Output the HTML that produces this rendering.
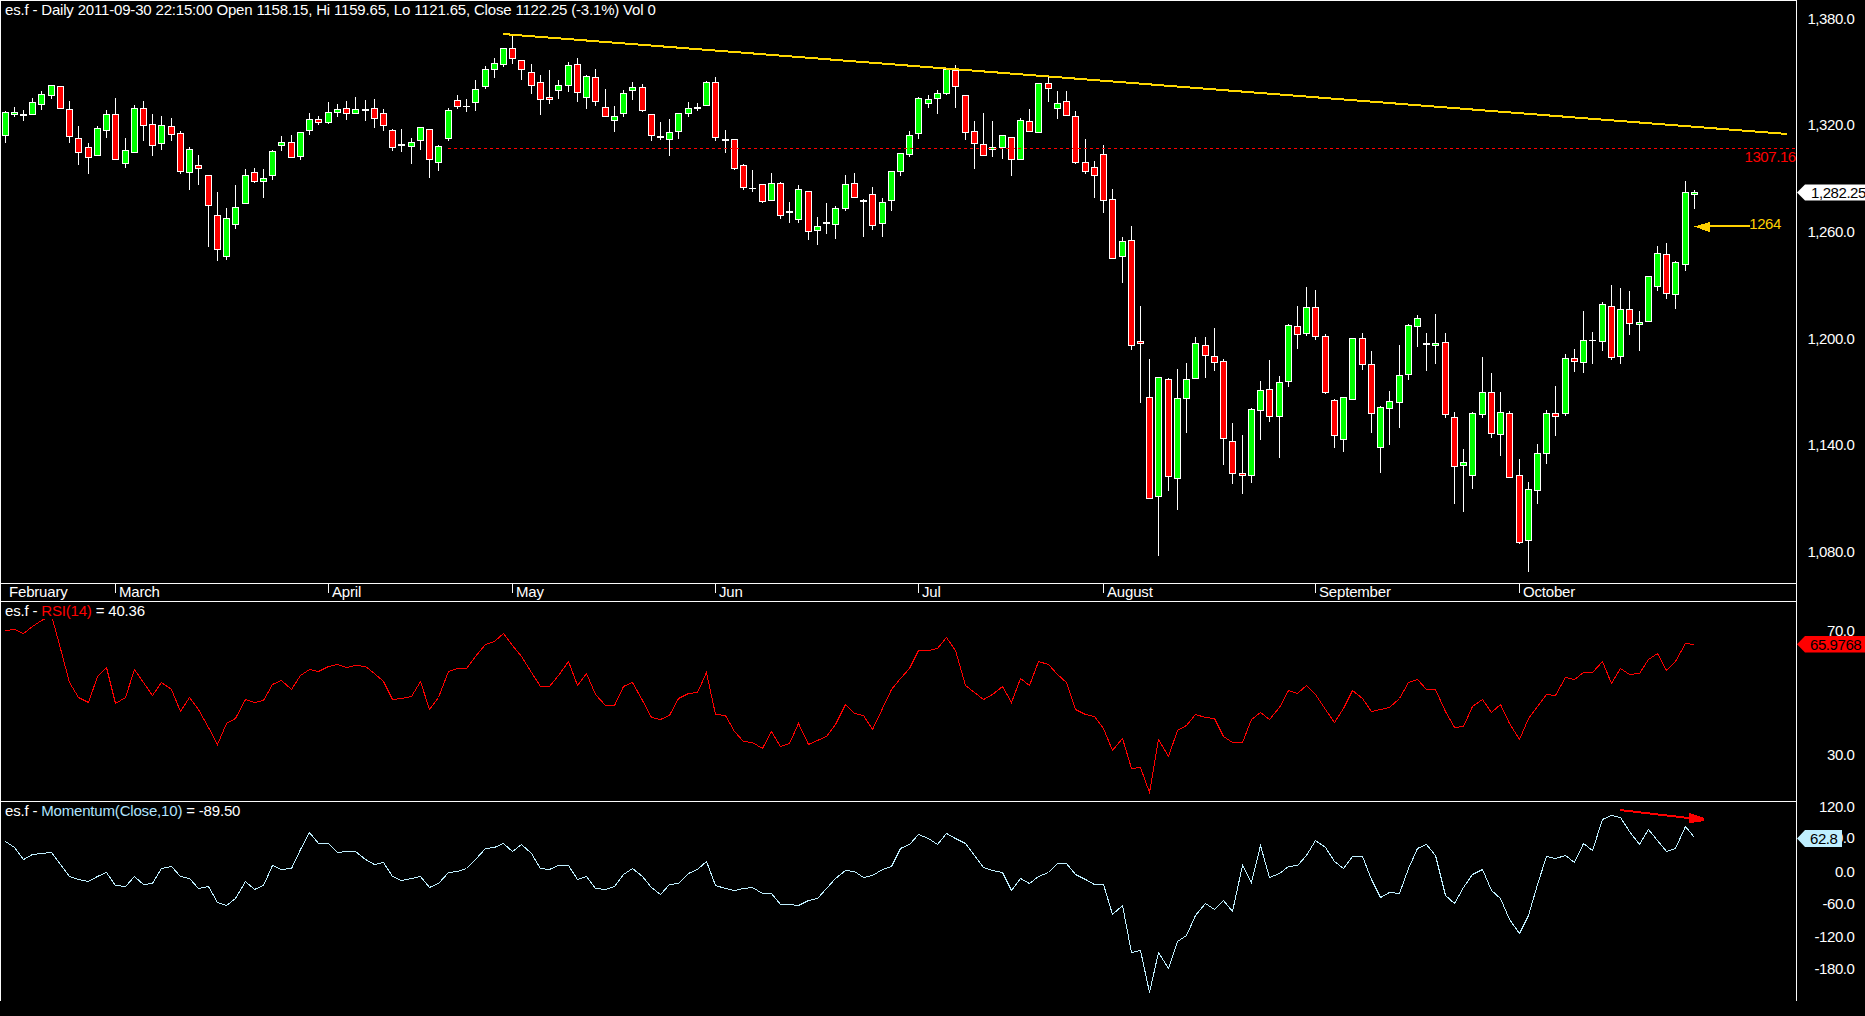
<!DOCTYPE html>
<html><head><meta charset="utf-8"><title>es.f Daily</title>
<style>
html,body{margin:0;padding:0;background:#000;overflow:hidden}
body{width:1865px;height:1016px;position:relative}
svg{position:absolute;left:0;top:0;display:block}
text{font-family:"Liberation Sans",sans-serif;font-size:15px;fill:#fff;letter-spacing:-0.18px}
.n{letter-spacing:-0.43px}
.r{fill:#f00}.g{fill:#0f0}.w{fill:#fff}
</style></head><body>
<svg width="1865" height="1016" viewBox="0 0 1865 1016">
<rect x="0" y="0" width="1865" height="1016" fill="#000"/>
<g shape-rendering="crispEdges" fill="#fafafa">
<rect x="0" y="0" width="1797" height="1"/>
<rect x="0" y="0" width="1" height="1001"/>
<rect x="1796" y="0" width="1" height="1001"/>
<rect x="0" y="583" width="1797" height="1"/>
<rect x="0" y="601" width="1797" height="1"/>
<rect x="0" y="801" width="1797" height="1"/>
<rect x="115" y="583" width="1" height="10"/>
<rect x="328" y="583" width="1" height="10"/>
<rect x="512" y="583" width="1" height="10"/>
<rect x="715" y="583" width="1" height="10"/>
<rect x="918" y="583" width="1" height="10"/>
<rect x="1103" y="583" width="1" height="10"/>
<rect x="1315" y="583" width="1" height="10"/>
<rect x="1519" y="583" width="1" height="10"/>
</g>
<text x="9" y="597">February</text>
<text x="119" y="597">March</text>
<text x="332" y="597">April</text>
<text x="516" y="597">May</text>
<text x="719" y="597">Jun</text>
<text x="922" y="597">Jul</text>
<text x="1107" y="597">August</text>
<text x="1319" y="597">September</text>
<text x="1523" y="597">October</text>
<g shape-rendering="crispEdges">
<rect class="w" x="5" y="111" width="1" height="32"/><rect class="w" x="2" y="112" width="7" height="24"/><rect class="g" x="3" y="113" width="5" height="22"/>
<rect class="w" x="14" y="107" width="1" height="10"/><rect class="w" x="11" y="112" width="7" height="3"/><rect class="g" x="12" y="113" width="5" height="1"/>
<rect class="w" x="23" y="110" width="1" height="11"/><rect class="w" x="20" y="114" width="7" height="2"/>
<rect class="w" x="32" y="98" width="1" height="17"/><rect class="w" x="29" y="102" width="7" height="13"/><rect class="g" x="30" y="103" width="5" height="11"/>
<rect class="w" x="41" y="91" width="1" height="19"/><rect class="w" x="38" y="94" width="7" height="11"/><rect class="g" x="39" y="95" width="5" height="9"/>
<rect class="w" x="51" y="85" width="1" height="14"/><rect class="w" x="48" y="85" width="7" height="11"/><rect class="g" x="49" y="86" width="5" height="9"/>
<rect class="w" x="60" y="86" width="1" height="23"/><rect class="w" x="57" y="86" width="7" height="23"/><rect class="r" x="58" y="87" width="5" height="21"/>
<rect class="w" x="69" y="101" width="1" height="42"/><rect class="w" x="66" y="109" width="7" height="28"/><rect class="r" x="67" y="110" width="5" height="26"/>
<rect class="w" x="78" y="126" width="1" height="39"/><rect class="w" x="75" y="138" width="7" height="15"/><rect class="r" x="76" y="139" width="5" height="13"/>
<rect class="w" x="88" y="143" width="1" height="31"/><rect class="w" x="85" y="147" width="7" height="11"/><rect class="r" x="86" y="148" width="5" height="9"/>
<rect class="w" x="97" y="126" width="1" height="30"/><rect class="w" x="94" y="128" width="7" height="28"/><rect class="g" x="95" y="129" width="5" height="26"/>
<rect class="w" x="106" y="110" width="1" height="28"/><rect class="w" x="103" y="114" width="7" height="17"/><rect class="g" x="104" y="115" width="5" height="15"/>
<rect class="w" x="115" y="98" width="1" height="62"/><rect class="w" x="112" y="114" width="7" height="46"/><rect class="r" x="113" y="115" width="5" height="44"/>
<rect class="w" x="125" y="138" width="1" height="30"/><rect class="w" x="122" y="150" width="7" height="14"/><rect class="g" x="123" y="151" width="5" height="12"/>
<rect class="w" x="134" y="105" width="1" height="48"/><rect class="w" x="131" y="108" width="7" height="45"/><rect class="g" x="132" y="109" width="5" height="43"/>
<rect class="w" x="143" y="101" width="1" height="40"/><rect class="w" x="140" y="108" width="7" height="18"/><rect class="r" x="141" y="109" width="5" height="16"/>
<rect class="w" x="152" y="114" width="1" height="42"/><rect class="w" x="149" y="124" width="7" height="22"/><rect class="r" x="150" y="125" width="5" height="20"/>
<rect class="w" x="161" y="116" width="1" height="34"/><rect class="w" x="158" y="125" width="7" height="19"/><rect class="g" x="159" y="126" width="5" height="17"/>
<rect class="w" x="171" y="118" width="1" height="23"/><rect class="w" x="168" y="126" width="7" height="9"/><rect class="r" x="169" y="127" width="5" height="7"/>
<rect class="w" x="180" y="131" width="1" height="43"/><rect class="w" x="177" y="133" width="7" height="39"/><rect class="r" x="178" y="134" width="5" height="37"/>
<rect class="w" x="189" y="147" width="1" height="43"/><rect class="w" x="186" y="149" width="7" height="24"/><rect class="g" x="187" y="150" width="5" height="22"/>
<rect class="w" x="198" y="155" width="1" height="30"/><rect class="w" x="195" y="165" width="7" height="4"/><rect class="r" x="196" y="166" width="5" height="2"/>
<rect class="w" x="208" y="175" width="1" height="72"/><rect class="w" x="205" y="175" width="7" height="31"/><rect class="r" x="206" y="176" width="5" height="29"/>
<rect class="w" x="217" y="192" width="1" height="69"/><rect class="w" x="214" y="215" width="7" height="35"/><rect class="r" x="215" y="216" width="5" height="33"/>
<rect class="w" x="226" y="208" width="1" height="52"/><rect class="w" x="223" y="218" width="7" height="39"/><rect class="g" x="224" y="219" width="5" height="37"/>
<rect class="w" x="235" y="185" width="1" height="44"/><rect class="w" x="232" y="207" width="7" height="18"/><rect class="g" x="233" y="208" width="5" height="16"/>
<rect class="w" x="245" y="169" width="1" height="35"/><rect class="w" x="242" y="175" width="7" height="29"/><rect class="g" x="243" y="176" width="5" height="27"/>
<rect class="w" x="254" y="168" width="1" height="15"/><rect class="w" x="251" y="172" width="7" height="10"/><rect class="r" x="252" y="173" width="5" height="8"/>
<rect class="w" x="263" y="169" width="1" height="29"/><rect class="w" x="260" y="178" width="7" height="4"/><rect class="g" x="261" y="179" width="5" height="2"/>
<rect class="w" x="272" y="150" width="1" height="30"/><rect class="w" x="269" y="151" width="7" height="25"/><rect class="g" x="270" y="152" width="5" height="23"/>
<rect class="w" x="281" y="136" width="1" height="15"/><rect class="w" x="278" y="142" width="7" height="4"/><rect class="g" x="279" y="143" width="5" height="2"/>
<rect class="w" x="291" y="135" width="1" height="23"/><rect class="w" x="288" y="142" width="7" height="16"/><rect class="r" x="289" y="143" width="5" height="14"/>
<rect class="w" x="300" y="132" width="1" height="28"/><rect class="w" x="297" y="132" width="7" height="25"/><rect class="g" x="298" y="133" width="5" height="23"/>
<rect class="w" x="309" y="113" width="1" height="22"/><rect class="w" x="306" y="119" width="7" height="12"/><rect class="g" x="307" y="120" width="5" height="10"/>
<rect class="w" x="318" y="116" width="1" height="9"/><rect class="w" x="315" y="119" width="7" height="4"/><rect class="r" x="316" y="120" width="5" height="2"/>
<rect class="w" x="328" y="102" width="1" height="22"/><rect class="w" x="325" y="112" width="7" height="11"/><rect class="g" x="326" y="113" width="5" height="9"/>
<rect class="w" x="337" y="104" width="1" height="13"/><rect class="w" x="334" y="109" width="7" height="4"/><rect class="g" x="335" y="110" width="5" height="2"/>
<rect class="w" x="346" y="101" width="1" height="19"/><rect class="w" x="343" y="108" width="7" height="6"/><rect class="r" x="344" y="109" width="5" height="4"/>
<rect class="w" x="355" y="97" width="1" height="17"/><rect class="w" x="352" y="109" width="7" height="5"/><rect class="g" x="353" y="110" width="5" height="3"/>
<rect class="w" x="365" y="100" width="1" height="21"/><rect class="w" x="362" y="109" width="7" height="2"/>
<rect class="w" x="374" y="99" width="1" height="29"/><rect class="w" x="371" y="108" width="7" height="11"/><rect class="r" x="372" y="109" width="5" height="9"/>
<rect class="w" x="383" y="109" width="1" height="22"/><rect class="w" x="380" y="113" width="7" height="13"/><rect class="r" x="381" y="114" width="5" height="11"/>
<rect class="w" x="392" y="129" width="1" height="22"/><rect class="w" x="389" y="130" width="7" height="18"/><rect class="r" x="390" y="131" width="5" height="16"/>
<rect class="w" x="401" y="129" width="1" height="23"/><rect class="w" x="398" y="144" width="7" height="2"/>
<rect class="w" x="411" y="138" width="1" height="26"/><rect class="w" x="408" y="142" width="7" height="5"/><rect class="g" x="409" y="143" width="5" height="3"/>
<rect class="w" x="420" y="127" width="1" height="23"/><rect class="w" x="417" y="127" width="7" height="14"/><rect class="g" x="418" y="128" width="5" height="12"/>
<rect class="w" x="429" y="129" width="1" height="49"/><rect class="w" x="426" y="129" width="7" height="31"/><rect class="r" x="427" y="130" width="5" height="29"/>
<rect class="w" x="438" y="145" width="1" height="26"/><rect class="w" x="435" y="146" width="7" height="17"/><rect class="g" x="436" y="147" width="5" height="15"/>
<rect class="w" x="448" y="108" width="1" height="33"/><rect class="w" x="445" y="110" width="7" height="29"/><rect class="g" x="446" y="111" width="5" height="27"/>
<rect class="w" x="457" y="95" width="1" height="14"/><rect class="w" x="454" y="100" width="7" height="7"/><rect class="r" x="455" y="101" width="5" height="5"/>
<rect class="w" x="466" y="99" width="1" height="13"/><rect class="w" x="463" y="106" width="7" height="1"/>
<rect class="w" x="475" y="80" width="1" height="31"/><rect class="w" x="472" y="89" width="7" height="14"/><rect class="g" x="473" y="90" width="5" height="12"/>
<rect class="w" x="485" y="66" width="1" height="23"/><rect class="w" x="482" y="69" width="7" height="18"/><rect class="g" x="483" y="70" width="5" height="16"/>
<rect class="w" x="494" y="58" width="1" height="20"/><rect class="w" x="491" y="63" width="7" height="7"/><rect class="g" x="492" y="64" width="5" height="5"/>
<rect class="w" x="503" y="48" width="1" height="19"/><rect class="w" x="500" y="48" width="7" height="17"/><rect class="g" x="501" y="49" width="5" height="15"/>
<rect class="w" x="512" y="34" width="1" height="30"/><rect class="w" x="509" y="48" width="7" height="11"/><rect class="r" x="510" y="49" width="5" height="9"/>
<rect class="w" x="521" y="60" width="1" height="20"/><rect class="w" x="518" y="60" width="7" height="10"/><rect class="r" x="519" y="61" width="5" height="8"/>
<rect class="w" x="531" y="64" width="1" height="30"/><rect class="w" x="528" y="72" width="7" height="14"/><rect class="r" x="529" y="73" width="5" height="12"/>
<rect class="w" x="540" y="75" width="1" height="40"/><rect class="w" x="537" y="82" width="7" height="18"/><rect class="r" x="538" y="83" width="5" height="16"/>
<rect class="w" x="549" y="70" width="1" height="34"/><rect class="w" x="546" y="97" width="7" height="3"/><rect class="r" x="547" y="98" width="5" height="1"/>
<rect class="w" x="558" y="80" width="1" height="19"/><rect class="w" x="555" y="85" width="7" height="6"/><rect class="g" x="556" y="86" width="5" height="4"/>
<rect class="w" x="568" y="62" width="1" height="30"/><rect class="w" x="565" y="65" width="7" height="21"/><rect class="g" x="566" y="66" width="5" height="19"/>
<rect class="w" x="577" y="58" width="1" height="44"/><rect class="w" x="574" y="64" width="7" height="29"/><rect class="r" x="575" y="65" width="5" height="27"/>
<rect class="w" x="586" y="75" width="1" height="34"/><rect class="w" x="583" y="76" width="7" height="22"/><rect class="g" x="584" y="77" width="5" height="20"/>
<rect class="w" x="595" y="69" width="1" height="37"/><rect class="w" x="592" y="77" width="7" height="25"/><rect class="r" x="593" y="78" width="5" height="23"/>
<rect class="w" x="605" y="89" width="1" height="28"/><rect class="w" x="602" y="107" width="7" height="10"/><rect class="r" x="603" y="108" width="5" height="8"/>
<rect class="w" x="614" y="106" width="1" height="26"/><rect class="w" x="611" y="116" width="7" height="5"/><rect class="g" x="612" y="117" width="5" height="3"/>
<rect class="w" x="623" y="90" width="1" height="27"/><rect class="w" x="620" y="93" width="7" height="21"/><rect class="g" x="621" y="94" width="5" height="19"/>
<rect class="w" x="632" y="82" width="1" height="18"/><rect class="w" x="629" y="87" width="7" height="4"/><rect class="g" x="630" y="88" width="5" height="2"/>
<rect class="w" x="642" y="84" width="1" height="28"/><rect class="w" x="639" y="87" width="7" height="24"/><rect class="r" x="640" y="88" width="5" height="22"/>
<rect class="w" x="651" y="114" width="1" height="27"/><rect class="w" x="648" y="114" width="7" height="22"/><rect class="r" x="649" y="115" width="5" height="20"/>
<rect class="w" x="660" y="122" width="1" height="18"/><rect class="w" x="657" y="136" width="7" height="2"/>
<rect class="w" x="669" y="119" width="1" height="37"/><rect class="w" x="666" y="132" width="7" height="8"/><rect class="g" x="667" y="133" width="5" height="6"/>
<rect class="w" x="678" y="113" width="1" height="26"/><rect class="w" x="675" y="113" width="7" height="19"/><rect class="g" x="676" y="114" width="5" height="17"/>
<rect class="w" x="688" y="102" width="1" height="15"/><rect class="w" x="685" y="108" width="7" height="6"/><rect class="g" x="686" y="109" width="5" height="4"/>
<rect class="w" x="697" y="103" width="1" height="8"/><rect class="w" x="694" y="107" width="7" height="2"/>
<rect class="w" x="706" y="81" width="1" height="25"/><rect class="w" x="703" y="82" width="7" height="24"/><rect class="g" x="704" y="83" width="5" height="22"/>
<rect class="w" x="715" y="77" width="1" height="64"/><rect class="w" x="712" y="82" width="7" height="56"/><rect class="r" x="713" y="83" width="5" height="54"/>
<rect class="w" x="725" y="130" width="1" height="23"/><rect class="w" x="722" y="139" width="7" height="2"/>
<rect class="w" x="734" y="139" width="1" height="31"/><rect class="w" x="731" y="139" width="7" height="30"/><rect class="r" x="732" y="140" width="5" height="28"/>
<rect class="w" x="743" y="164" width="1" height="26"/><rect class="w" x="740" y="165" width="7" height="23"/><rect class="r" x="741" y="166" width="5" height="21"/>
<rect class="w" x="752" y="170" width="1" height="22"/><rect class="w" x="749" y="188" width="7" height="1"/>
<rect class="w" x="762" y="184" width="1" height="19"/><rect class="w" x="759" y="184" width="7" height="18"/><rect class="r" x="760" y="185" width="5" height="16"/>
<rect class="w" x="771" y="173" width="1" height="28"/><rect class="w" x="768" y="183" width="7" height="18"/><rect class="g" x="769" y="184" width="5" height="16"/>
<rect class="w" x="780" y="182" width="1" height="37"/><rect class="w" x="777" y="183" width="7" height="33"/><rect class="r" x="778" y="184" width="5" height="31"/>
<rect class="w" x="789" y="202" width="1" height="21"/><rect class="w" x="786" y="211" width="7" height="2"/>
<rect class="w" x="798" y="185" width="1" height="38"/><rect class="w" x="795" y="189" width="7" height="31"/><rect class="g" x="796" y="190" width="5" height="29"/>
<rect class="w" x="808" y="191" width="1" height="49"/><rect class="w" x="805" y="191" width="7" height="41"/><rect class="r" x="806" y="192" width="5" height="39"/>
<rect class="w" x="817" y="217" width="1" height="28"/><rect class="w" x="814" y="226" width="7" height="5"/><rect class="g" x="815" y="227" width="5" height="3"/>
<rect class="w" x="826" y="203" width="1" height="31"/><rect class="w" x="823" y="222" width="7" height="2"/>
<rect class="w" x="835" y="206" width="1" height="33"/><rect class="w" x="832" y="208" width="7" height="17"/><rect class="g" x="833" y="209" width="5" height="15"/>
<rect class="w" x="845" y="175" width="1" height="36"/><rect class="w" x="842" y="184" width="7" height="25"/><rect class="g" x="843" y="185" width="5" height="23"/>
<rect class="w" x="854" y="173" width="1" height="25"/><rect class="w" x="851" y="183" width="7" height="15"/><rect class="r" x="852" y="184" width="5" height="13"/>
<rect class="w" x="863" y="199" width="1" height="38"/><rect class="w" x="860" y="200" width="7" height="2"/>
<rect class="w" x="872" y="187" width="1" height="43"/><rect class="w" x="869" y="194" width="7" height="32"/><rect class="r" x="870" y="195" width="5" height="30"/>
<rect class="w" x="882" y="198" width="1" height="39"/><rect class="w" x="879" y="202" width="7" height="22"/><rect class="g" x="880" y="203" width="5" height="20"/>
<rect class="w" x="891" y="171" width="1" height="40"/><rect class="w" x="888" y="171" width="7" height="30"/><rect class="g" x="889" y="172" width="5" height="28"/>
<rect class="w" x="900" y="153" width="1" height="23"/><rect class="w" x="897" y="153" width="7" height="19"/><rect class="g" x="898" y="154" width="5" height="17"/>
<rect class="w" x="909" y="131" width="1" height="26"/><rect class="w" x="906" y="135" width="7" height="20"/><rect class="g" x="907" y="136" width="5" height="18"/>
<rect class="w" x="918" y="97" width="1" height="42"/><rect class="w" x="915" y="98" width="7" height="36"/><rect class="g" x="916" y="99" width="5" height="34"/>
<rect class="w" x="928" y="95" width="1" height="13"/><rect class="w" x="925" y="99" width="7" height="5"/><rect class="g" x="926" y="100" width="5" height="3"/>
<rect class="w" x="937" y="90" width="1" height="24"/><rect class="w" x="934" y="93" width="7" height="6"/><rect class="g" x="935" y="94" width="5" height="4"/>
<rect class="w" x="946" y="69" width="1" height="26"/><rect class="w" x="943" y="69" width="7" height="25"/><rect class="g" x="944" y="70" width="5" height="23"/>
<rect class="w" x="955" y="65" width="1" height="43"/><rect class="w" x="952" y="70" width="7" height="17"/><rect class="r" x="953" y="71" width="5" height="15"/>
<rect class="w" x="965" y="95" width="1" height="45"/><rect class="w" x="962" y="95" width="7" height="38"/><rect class="r" x="963" y="96" width="5" height="36"/>
<rect class="w" x="974" y="121" width="1" height="48"/><rect class="w" x="971" y="131" width="7" height="13"/><rect class="r" x="972" y="132" width="5" height="11"/>
<rect class="w" x="983" y="113" width="1" height="43"/><rect class="w" x="980" y="144" width="7" height="12"/><rect class="r" x="981" y="145" width="5" height="10"/>
<rect class="w" x="992" y="121" width="1" height="36"/><rect class="w" x="989" y="147" width="7" height="3"/><rect class="g" x="990" y="148" width="5" height="1"/>
<rect class="w" x="1002" y="135" width="1" height="24"/><rect class="w" x="999" y="135" width="7" height="13"/><rect class="g" x="1000" y="136" width="5" height="11"/>
<rect class="w" x="1011" y="137" width="1" height="39"/><rect class="w" x="1008" y="137" width="7" height="23"/><rect class="r" x="1009" y="138" width="5" height="21"/>
<rect class="w" x="1020" y="118" width="1" height="42"/><rect class="w" x="1017" y="120" width="7" height="40"/><rect class="g" x="1018" y="121" width="5" height="38"/>
<rect class="w" x="1029" y="109" width="1" height="23"/><rect class="w" x="1026" y="121" width="7" height="11"/><rect class="r" x="1027" y="122" width="5" height="9"/>
<rect class="w" x="1038" y="83" width="1" height="50"/><rect class="w" x="1035" y="83" width="7" height="50"/><rect class="g" x="1036" y="84" width="5" height="48"/>
<rect class="w" x="1048" y="77" width="1" height="25"/><rect class="w" x="1045" y="83" width="7" height="6"/><rect class="r" x="1046" y="84" width="5" height="4"/>
<rect class="w" x="1057" y="91" width="1" height="28"/><rect class="w" x="1054" y="103" width="7" height="6"/><rect class="g" x="1055" y="104" width="5" height="4"/>
<rect class="w" x="1066" y="91" width="1" height="25"/><rect class="w" x="1063" y="101" width="7" height="15"/><rect class="r" x="1064" y="102" width="5" height="13"/>
<rect class="w" x="1075" y="111" width="1" height="53"/><rect class="w" x="1072" y="116" width="7" height="47"/><rect class="r" x="1073" y="117" width="5" height="45"/>
<rect class="w" x="1085" y="139" width="1" height="35"/><rect class="w" x="1082" y="162" width="7" height="10"/><rect class="r" x="1083" y="163" width="5" height="8"/>
<rect class="w" x="1094" y="161" width="1" height="37"/><rect class="w" x="1091" y="167" width="7" height="9"/><rect class="r" x="1092" y="168" width="5" height="7"/>
<rect class="w" x="1103" y="145" width="1" height="68"/><rect class="w" x="1100" y="154" width="7" height="47"/><rect class="r" x="1101" y="155" width="5" height="45"/>
<rect class="w" x="1112" y="189" width="1" height="70"/><rect class="w" x="1109" y="199" width="7" height="60"/><rect class="r" x="1110" y="200" width="5" height="58"/>
<rect class="w" x="1122" y="237" width="1" height="46"/><rect class="w" x="1119" y="241" width="7" height="16"/><rect class="g" x="1120" y="242" width="5" height="14"/>
<rect class="w" x="1131" y="226" width="1" height="124"/><rect class="w" x="1128" y="240" width="7" height="106"/><rect class="r" x="1129" y="241" width="5" height="104"/>
<rect class="w" x="1140" y="306" width="1" height="97"/><rect class="w" x="1137" y="341" width="7" height="3"/><rect class="r" x="1138" y="342" width="5" height="1"/>
<rect class="w" x="1149" y="359" width="1" height="140"/><rect class="w" x="1146" y="397" width="7" height="102"/><rect class="r" x="1147" y="398" width="5" height="100"/>
<rect class="w" x="1158" y="377" width="1" height="179"/><rect class="w" x="1155" y="377" width="7" height="120"/><rect class="g" x="1156" y="378" width="5" height="118"/>
<rect class="w" x="1168" y="378" width="1" height="113"/><rect class="w" x="1165" y="379" width="7" height="98"/><rect class="r" x="1166" y="380" width="5" height="96"/>
<rect class="w" x="1177" y="369" width="1" height="141"/><rect class="w" x="1174" y="398" width="7" height="81"/><rect class="g" x="1175" y="399" width="5" height="79"/>
<rect class="w" x="1186" y="363" width="1" height="70"/><rect class="w" x="1183" y="379" width="7" height="20"/><rect class="g" x="1184" y="380" width="5" height="18"/>
<rect class="w" x="1195" y="337" width="1" height="42"/><rect class="w" x="1192" y="343" width="7" height="36"/><rect class="g" x="1193" y="344" width="5" height="34"/>
<rect class="w" x="1205" y="337" width="1" height="41"/><rect class="w" x="1202" y="345" width="7" height="11"/><rect class="r" x="1203" y="346" width="5" height="9"/>
<rect class="w" x="1214" y="328" width="1" height="43"/><rect class="w" x="1211" y="356" width="7" height="7"/><rect class="r" x="1212" y="357" width="5" height="5"/>
<rect class="w" x="1223" y="359" width="1" height="106"/><rect class="w" x="1220" y="361" width="7" height="78"/><rect class="r" x="1221" y="362" width="5" height="76"/>
<rect class="w" x="1232" y="423" width="1" height="61"/><rect class="w" x="1229" y="441" width="7" height="33"/><rect class="r" x="1230" y="442" width="5" height="31"/>
<rect class="w" x="1242" y="435" width="1" height="59"/><rect class="w" x="1239" y="473" width="7" height="3"/><rect class="r" x="1240" y="474" width="5" height="1"/>
<rect class="w" x="1251" y="408" width="1" height="75"/><rect class="w" x="1248" y="409" width="7" height="67"/><rect class="g" x="1249" y="410" width="5" height="65"/>
<rect class="w" x="1260" y="381" width="1" height="59"/><rect class="w" x="1257" y="390" width="7" height="21"/><rect class="g" x="1258" y="391" width="5" height="19"/>
<rect class="w" x="1269" y="360" width="1" height="62"/><rect class="w" x="1266" y="389" width="7" height="28"/><rect class="r" x="1267" y="390" width="5" height="26"/>
<rect class="w" x="1279" y="376" width="1" height="82"/><rect class="w" x="1276" y="382" width="7" height="35"/><rect class="g" x="1277" y="383" width="5" height="33"/>
<rect class="w" x="1288" y="324" width="1" height="63"/><rect class="w" x="1285" y="325" width="7" height="57"/><rect class="g" x="1286" y="326" width="5" height="55"/>
<rect class="w" x="1297" y="306" width="1" height="43"/><rect class="w" x="1294" y="326" width="7" height="9"/><rect class="r" x="1295" y="327" width="5" height="7"/>
<rect class="w" x="1306" y="287" width="1" height="49"/><rect class="w" x="1303" y="307" width="7" height="27"/><rect class="g" x="1304" y="308" width="5" height="25"/>
<rect class="w" x="1315" y="290" width="1" height="50"/><rect class="w" x="1312" y="307" width="7" height="30"/><rect class="r" x="1313" y="308" width="5" height="28"/>
<rect class="w" x="1325" y="334" width="1" height="60"/><rect class="w" x="1322" y="336" width="7" height="57"/><rect class="r" x="1323" y="337" width="5" height="55"/>
<rect class="w" x="1334" y="399" width="1" height="49"/><rect class="w" x="1331" y="400" width="7" height="36"/><rect class="r" x="1332" y="401" width="5" height="34"/>
<rect class="w" x="1343" y="397" width="1" height="55"/><rect class="w" x="1340" y="397" width="7" height="43"/><rect class="g" x="1341" y="398" width="5" height="41"/>
<rect class="w" x="1352" y="338" width="1" height="62"/><rect class="w" x="1349" y="338" width="7" height="62"/><rect class="g" x="1350" y="339" width="5" height="60"/>
<rect class="w" x="1362" y="333" width="1" height="37"/><rect class="w" x="1359" y="338" width="7" height="27"/><rect class="r" x="1360" y="339" width="5" height="25"/>
<rect class="w" x="1371" y="351" width="1" height="82"/><rect class="w" x="1368" y="364" width="7" height="50"/><rect class="r" x="1369" y="365" width="5" height="48"/>
<rect class="w" x="1380" y="406" width="1" height="67"/><rect class="w" x="1377" y="407" width="7" height="41"/><rect class="g" x="1378" y="408" width="5" height="39"/>
<rect class="w" x="1389" y="391" width="1" height="54"/><rect class="w" x="1386" y="401" width="7" height="8"/><rect class="g" x="1387" y="402" width="5" height="6"/>
<rect class="w" x="1399" y="345" width="1" height="83"/><rect class="w" x="1396" y="375" width="7" height="28"/><rect class="g" x="1397" y="376" width="5" height="26"/>
<rect class="w" x="1408" y="324" width="1" height="56"/><rect class="w" x="1405" y="325" width="7" height="50"/><rect class="g" x="1406" y="326" width="5" height="48"/>
<rect class="w" x="1417" y="315" width="1" height="32"/><rect class="w" x="1414" y="318" width="7" height="9"/><rect class="g" x="1415" y="319" width="5" height="7"/>
<rect class="w" x="1426" y="333" width="1" height="38"/><rect class="w" x="1423" y="343" width="7" height="2"/>
<rect class="w" x="1435" y="314" width="1" height="50"/><rect class="w" x="1432" y="343" width="7" height="3"/><rect class="g" x="1433" y="344" width="5" height="1"/>
<rect class="w" x="1445" y="333" width="1" height="85"/><rect class="w" x="1442" y="342" width="7" height="73"/><rect class="r" x="1443" y="343" width="5" height="71"/>
<rect class="w" x="1454" y="412" width="1" height="92"/><rect class="w" x="1451" y="417" width="7" height="50"/><rect class="r" x="1452" y="418" width="5" height="48"/>
<rect class="w" x="1463" y="449" width="1" height="63"/><rect class="w" x="1460" y="462" width="7" height="4"/><rect class="g" x="1461" y="463" width="5" height="2"/>
<rect class="w" x="1472" y="412" width="1" height="77"/><rect class="w" x="1469" y="413" width="7" height="63"/><rect class="g" x="1470" y="414" width="5" height="61"/>
<rect class="w" x="1482" y="357" width="1" height="61"/><rect class="w" x="1479" y="392" width="7" height="23"/><rect class="g" x="1480" y="393" width="5" height="21"/>
<rect class="w" x="1491" y="373" width="1" height="65"/><rect class="w" x="1488" y="392" width="7" height="42"/><rect class="r" x="1489" y="393" width="5" height="40"/>
<rect class="w" x="1500" y="392" width="1" height="64"/><rect class="w" x="1497" y="412" width="7" height="23"/><rect class="g" x="1498" y="413" width="5" height="21"/>
<rect class="w" x="1509" y="411" width="1" height="67"/><rect class="w" x="1506" y="413" width="7" height="65"/><rect class="r" x="1507" y="414" width="5" height="63"/>
<rect class="w" x="1519" y="459" width="1" height="85"/><rect class="w" x="1516" y="475" width="7" height="68"/><rect class="r" x="1517" y="476" width="5" height="66"/>
<rect class="w" x="1528" y="482" width="1" height="90"/><rect class="w" x="1525" y="489" width="7" height="52"/><rect class="g" x="1526" y="490" width="5" height="50"/>
<rect class="w" x="1537" y="444" width="1" height="60"/><rect class="w" x="1534" y="453" width="7" height="38"/><rect class="g" x="1535" y="454" width="5" height="36"/>
<rect class="w" x="1546" y="410" width="1" height="54"/><rect class="w" x="1543" y="413" width="7" height="41"/><rect class="g" x="1544" y="414" width="5" height="39"/>
<rect class="w" x="1555" y="386" width="1" height="50"/><rect class="w" x="1552" y="413" width="7" height="4"/><rect class="r" x="1553" y="414" width="5" height="2"/>
<rect class="w" x="1565" y="354" width="1" height="62"/><rect class="w" x="1562" y="358" width="7" height="56"/><rect class="g" x="1563" y="359" width="5" height="54"/>
<rect class="w" x="1574" y="349" width="1" height="23"/><rect class="w" x="1571" y="358" width="7" height="4"/><rect class="r" x="1572" y="359" width="5" height="2"/>
<rect class="w" x="1583" y="311" width="1" height="62"/><rect class="w" x="1580" y="340" width="7" height="23"/><rect class="g" x="1581" y="341" width="5" height="21"/>
<rect class="w" x="1592" y="332" width="1" height="32"/><rect class="w" x="1589" y="340" width="7" height="1"/>
<rect class="w" x="1602" y="302" width="1" height="49"/><rect class="w" x="1599" y="304" width="7" height="38"/><rect class="g" x="1600" y="305" width="5" height="36"/>
<rect class="w" x="1611" y="285" width="1" height="75"/><rect class="w" x="1608" y="306" width="7" height="52"/><rect class="r" x="1609" y="307" width="5" height="50"/>
<rect class="w" x="1620" y="288" width="1" height="76"/><rect class="w" x="1617" y="309" width="7" height="48"/><rect class="g" x="1618" y="310" width="5" height="46"/>
<rect class="w" x="1629" y="291" width="1" height="44"/><rect class="w" x="1626" y="309" width="7" height="15"/><rect class="r" x="1627" y="310" width="5" height="13"/>
<rect class="w" x="1639" y="311" width="1" height="40"/><rect class="w" x="1636" y="322" width="7" height="3"/><rect class="g" x="1637" y="323" width="5" height="1"/>
<rect class="w" x="1648" y="276" width="1" height="46"/><rect class="w" x="1645" y="276" width="7" height="46"/><rect class="g" x="1646" y="277" width="5" height="44"/>
<rect class="w" x="1657" y="246" width="1" height="45"/><rect class="w" x="1654" y="253" width="7" height="34"/><rect class="g" x="1655" y="254" width="5" height="32"/>
<rect class="w" x="1666" y="243" width="1" height="56"/><rect class="w" x="1663" y="254" width="7" height="40"/><rect class="r" x="1664" y="255" width="5" height="38"/>
<rect class="w" x="1675" y="261" width="1" height="48"/><rect class="w" x="1672" y="262" width="7" height="33"/><rect class="g" x="1673" y="263" width="5" height="31"/>
<rect class="w" x="1685" y="181" width="1" height="90"/><rect class="w" x="1682" y="192" width="7" height="73"/><rect class="g" x="1683" y="193" width="5" height="71"/>
<rect class="w" x="1694" y="190" width="1" height="19"/><rect class="w" x="1691" y="192" width="7" height="3"/><rect class="g" x="1692" y="193" width="5" height="1"/>
</g>
<line x1="448" y1="148.5" x2="1796" y2="148.5" stroke="#f00" stroke-width="1" stroke-dasharray="3,3" shape-rendering="crispEdges"/>
<line x1="503" y1="34" x2="1787" y2="134" stroke="#ffd700" stroke-width="2" shape-rendering="crispEdges"/>
<g fill="#ffd000" stroke="none"><rect x="1708" y="225" width="42" height="2" shape-rendering="crispEdges"/><polygon points="1694,226.5 1710,222 1710,232.3" shape-rendering="crispEdges"/></g>
<text class="n" x="1749.3" y="229" style="fill:#ffd000">1264</text>
<text class="n" x="1744.5" y="161.6" style="fill:#f00">1307.16</text>
<polyline points="5.5,630.5 14.5,629.5 23.5,633.5 32.5,626.5 41.5,620.5 51.5,615.5 60.5,648.5 69.5,682.5 78.5,697.5 88.5,702.5 97.5,676.5 106.5,667.5 115.5,703.5 125.5,697.5 134.5,669.5 143.5,682.5 152.5,695.5 161.5,682.5 171.5,689.5 180.5,711.5 189.5,697.5 198.5,709.5 208.5,727.5 217.5,744.5 226.5,723.5 235.5,718.5 245.5,699.5 254.5,702.5 263.5,700.5 272.5,684.5 281.5,680.5 291.5,689.5 300.5,675.5 309.5,669.5 318.5,671.5 328.5,666.5 337.5,664.5 346.5,667.5 355.5,665.5 365.5,666.5 374.5,673.5 383.5,681.5 392.5,699.5 401.5,698.5 411.5,696.5 420.5,681.5 429.5,709.5 438.5,697.5 448.5,671.5 457.5,668.5 466.5,668.5 475.5,656.5 485.5,644.5 494.5,641.5 503.5,633.5 512.5,645.5 521.5,656.5 531.5,672.5 540.5,686.5 549.5,686.5 558.5,675.5 568.5,661.5 577.5,685.5 586.5,673.5 595.5,694.5 605.5,705.5 614.5,705.5 623.5,686.5 632.5,682.5 642.5,700.5 651.5,717.5 660.5,719.5 669.5,715.5 678.5,698.5 688.5,693.5 697.5,692.5 706.5,672.5 715.5,714.5 725.5,715.5 734.5,731.5 743.5,741.5 752.5,742.5 762.5,748.5 771.5,731.5 780.5,746.5 789.5,743.5 798.5,723.5 808.5,744.5 817.5,740.5 826.5,736.5 835.5,724.5 845.5,704.5 854.5,713.5 863.5,715.5 872.5,729.5 882.5,708.5 891.5,689.5 900.5,678.5 909.5,668.5 918.5,650.5 928.5,650.5 937.5,648.5 946.5,637.5 955.5,650.5 965.5,685.5 974.5,692.5 983.5,699.5 992.5,694.5 1002.5,686.5 1011.5,702.5 1020.5,678.5 1029.5,685.5 1038.5,661.5 1048.5,664.5 1057.5,674.5 1066.5,682.5 1075.5,709.5 1085.5,714.5 1094.5,716.5 1103.5,728.5 1112.5,750.5 1122.5,738.5 1131.5,768.5 1140.5,767.5 1149.5,792.5 1158.5,739.5 1168.5,756.5 1177.5,730.5 1186.5,725.5 1195.5,714.5 1205.5,717.5 1214.5,718.5 1223.5,736.5 1232.5,742.5 1242.5,742.5 1251.5,719.5 1260.5,712.5 1269.5,719.5 1279.5,707.5 1288.5,690.5 1297.5,693.5 1306.5,685.5 1315.5,694.5 1325.5,709.5 1334.5,722.5 1343.5,708.5 1352.5,690.5 1362.5,698.5 1371.5,711.5 1380.5,709.5 1389.5,707.5 1399.5,698.5 1408.5,682.5 1417.5,679.5 1426.5,689.5 1435.5,689.5 1445.5,711.5 1454.5,727.5 1463.5,726.5 1472.5,706.5 1482.5,699.5 1491.5,712.5 1500.5,704.5 1509.5,723.5 1519.5,739.5 1528.5,718.5 1537.5,706.5 1546.5,694.5 1555.5,695.5 1565.5,677.5 1574.5,679.5 1583.5,672.5 1592.5,672.5 1602.5,661.5 1611.5,683.5 1620.5,668.5 1629.5,674.5 1639.5,673.5 1648.5,659.5 1657.5,653.5 1666.5,670.5 1675.5,661.5 1685.5,643.5 1694.5,644.5" fill="none" stroke="#f00" stroke-width="1" shape-rendering="crispEdges"/>
<polyline points="5.5,841.5 14.5,847.5 23.5,859.5 32.5,854.5 41.5,853.5 51.5,852.5 60.5,864.5 69.5,876.5 78.5,879.5 88.5,881.5 97.5,876.5 106.5,872.5 115.5,885.5 125.5,886.5 134.5,876.5 143.5,884.5 152.5,883.5 161.5,868.5 171.5,866.5 180.5,876.5 189.5,878.5 198.5,888.5 208.5,886.5 217.5,902.5 226.5,905.5 235.5,898.5 245.5,881.5 254.5,889.5 263.5,885.5 272.5,865.5 281.5,869.5 291.5,868.5 300.5,849.5 309.5,832.5 318.5,843.5 328.5,843.5 337.5,852.5 346.5,851.5 355.5,851.5 365.5,859.5 374.5,864.5 383.5,862.5 392.5,876.5 401.5,880.5 411.5,878.5 420.5,876.5 429.5,887.5 438.5,883.5 448.5,872.5 457.5,871.5 466.5,868.5 475.5,859.5 485.5,848.5 494.5,847.5 503.5,843.5 512.5,851.5 521.5,844.5 531.5,853.5 540.5,868.5 549.5,869.5 558.5,865.5 568.5,865.5 577.5,879.5 586.5,876.5 595.5,888.5 605.5,889.5 614.5,886.5 623.5,874.5 632.5,868.5 642.5,876.5 651.5,887.5 660.5,894.5 669.5,884.5 678.5,883.5 688.5,873.5 697.5,869.5 706.5,861.5 715.5,885.5 725.5,888.5 734.5,890.5 743.5,888.5 752.5,887.5 762.5,893.5 771.5,893.5 780.5,904.5 789.5,904.5 798.5,905.5 808.5,900.5 817.5,898.5 826.5,888.5 835.5,878.5 845.5,870.5 854.5,871.5 863.5,877.5 872.5,875.5 882.5,869.5 891.5,866.5 900.5,848.5 909.5,844.5 918.5,834.5 928.5,838.5 937.5,844.5 946.5,833.5 955.5,838.5 965.5,843.5 974.5,855.5 983.5,867.5 992.5,870.5 1002.5,872.5 1011.5,890.5 1020.5,878.5 1029.5,883.5 1038.5,876.5 1048.5,872.5 1057.5,863.5 1066.5,863.5 1075.5,874.5 1085.5,879.5 1094.5,884.5 1103.5,884.5 1112.5,914.5 1122.5,905.5 1131.5,952.5 1140.5,950.5 1149.5,992.5 1158.5,952.5 1168.5,968.5 1177.5,941.5 1186.5,935.5 1195.5,915.5 1205.5,903.5 1214.5,909.5 1223.5,900.5 1232.5,911.5 1242.5,865.5 1251.5,882.5 1260.5,845.5 1269.5,877.5 1279.5,873.5 1288.5,866.5 1297.5,865.5 1306.5,855.5 1315.5,840.5 1325.5,847.5 1334.5,861.5 1343.5,868.5 1352.5,856.5 1362.5,856.5 1371.5,879.5 1380.5,897.5 1389.5,892.5 1399.5,893.5 1408.5,868.5 1417.5,848.5 1426.5,844.5 1435.5,855.5 1445.5,895.5 1454.5,903.5 1463.5,887.5 1472.5,874.5 1482.5,869.5 1491.5,890.5 1500.5,898.5 1509.5,919.5 1519.5,933.5 1528.5,915.5 1537.5,884.5 1546.5,856.5 1555.5,858.5 1565.5,855.5 1574.5,862.5 1583.5,843.5 1592.5,850.5 1602.5,819.5 1611.5,815.5 1620.5,817.5 1629.5,831.5 1639.5,844.5 1648.5,829.5 1657.5,840.5 1666.5,851.5 1675.5,848.5 1685.5,826.5 1694.5,837.5" fill="none" stroke="#bfefff" stroke-width="1" shape-rendering="crispEdges"/>
<g fill="#f00" shape-rendering="crispEdges"><polygon points="1620,809 1620,811 1690,819.2 1690,817.2"/><polygon points="1704,818 1704,821 1689,823.2 1689,813"/></g>
<text x="5" y="15">es.f - Daily 2011-09-30 22:15:00 Open 1158.15, Hi 1159.65, Lo 1121.65, Close 1122.25 (-3.1%) Vol 0</text>
<rect x="5" y="602" width="140" height="17" fill="#000"/>
<text x="5" y="616">es.f - <tspan style="fill:#f00">RSI(14)</tspan> = 40.36</text>
<text x="5" y="816">es.f - <tspan style="fill:#b0e4ff">Momentum(Close,10)</tspan> = -89.50</text>
<text class="n" x="1854.5" y="24.4" text-anchor="end">1,380.0</text>
<text class="n" x="1854.5" y="130.4" text-anchor="end">1,320.0</text>
<text class="n" x="1854.5" y="236.9" text-anchor="end">1,260.0</text>
<text class="n" x="1854.5" y="344.4" text-anchor="end">1,200.0</text>
<text class="n" x="1854.5" y="450.4" text-anchor="end">1,140.0</text>
<text class="n" x="1854.5" y="557.4" text-anchor="end">1,080.0</text>
<text class="n" x="1854.5" y="636.4" text-anchor="end">70.0</text>
<text class="n" x="1854.5" y="760.4" text-anchor="end">30.0</text>
<text class="n" x="1854.5" y="812.4" text-anchor="end">120.0</text>
<text class="n" x="1854.5" y="843.4" text-anchor="end">60.0</text>
<text class="n" x="1854.5" y="877.4" text-anchor="end">0.0</text>
<text class="n" x="1854.5" y="909.4" text-anchor="end">-60.0</text>
<text class="n" x="1854.5" y="941.9" text-anchor="end">-120.0</text>
<text class="n" x="1854.5" y="974.4" text-anchor="end">-180.0</text>
<polygon points="1797,192.5 1805,184.5 1865,184.5 1865,200.5 1805,200.5" fill="#fff"/>
<text class="n" x="1811.0" y="197.9" style="fill:#000">1,282.25</text>
<polygon points="1797,644.2 1805,636.0 1865,636.0 1865,652.5 1805,652.5" fill="#f00"/>
<text class="n" x="1810.0" y="649.6" style="fill:#000">65.9768</text>
<polygon points="1797,838.5 1805,830.0 1842,830.0 1842,847.0 1805,847.0" fill="#bfefff"/>
<text class="n" x="1810.0" y="843.9" style="fill:#000">62.8</text>
</svg>
</body></html>
